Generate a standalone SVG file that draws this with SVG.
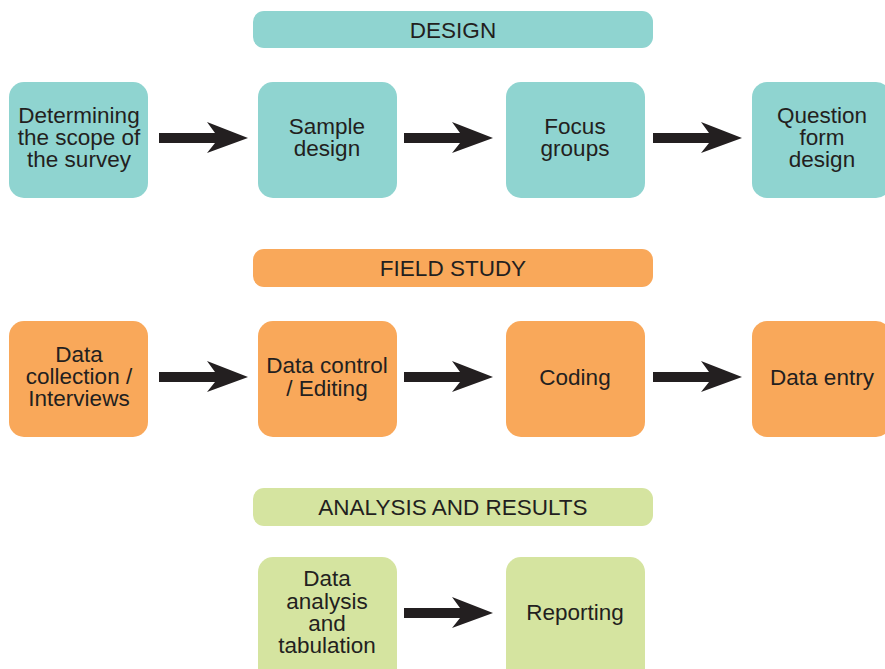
<svg xmlns="http://www.w3.org/2000/svg" width="885" height="669" viewBox="0 0 885 669">
<style>
text{font-family:"Liberation Sans",Arial,sans-serif;font-size:22.5px;fill:#231f20;text-anchor:middle}
.d{fill:#8fd4d0}.f{fill:#f9a85a}.a{fill:#d5e4a0}
.arr{fill:#231f20}
</style>
<defs>
<path id="arrow" d="M0,-5 H56 L48,-16 L89,0 L48,15 L56,5 H0 Z"/>
</defs>
<rect width="885" height="669" fill="#ffffff"/>
<g id="h-design"><rect class="d" x="253" y="11" width="400" height="37" rx="11"/><text x="453" y="38">DESIGN</text></g>
<g id="h-field"><rect class="f" x="253" y="249" width="400" height="38" rx="11"/><text x="453" y="276">FIELD STUDY</text></g>
<g id="h-analysis"><rect class="a" x="253" y="488" width="400" height="38" rx="11"/><text x="453" y="515">ANALYSIS AND RESULTS</text></g>

<g id="n-scope"><rect class="d" x="9" y="82" width="139" height="116" rx="15"/><text x="79"><tspan x="79" y="123">Determining</tspan><tspan x="79" y="145">the scope of</tspan><tspan x="79" y="167">the survey</tspan></text></g>
<g id="n-sample"><rect class="d" x="258" y="82" width="139" height="116" rx="15"/><text><tspan x="327" y="134">Sample</tspan><tspan x="327" y="156">design</tspan></text></g>
<g id="n-focus"><rect class="d" x="506" y="82" width="139" height="116" rx="15"/><text><tspan x="575" y="134">Focus</tspan><tspan x="575" y="156">groups</tspan></text></g>
<g id="n-question"><rect class="d" x="752" y="82" width="139" height="116" rx="15"/><text><tspan x="822" y="123">Question</tspan><tspan x="822" y="145">form</tspan><tspan x="822" y="167">design</tspan></text></g>

<g id="n-collection"><rect class="f" x="9" y="321" width="139" height="116" rx="15"/><text><tspan x="79" y="362">Data</tspan><tspan x="79" y="384">collection /</tspan><tspan x="79" y="406">Interviews</tspan></text></g>
<g id="n-control"><rect class="f" x="258" y="321" width="139" height="116" rx="15"/><text><tspan x="327" y="373">Data control</tspan><tspan x="327" y="396">/ Editing</tspan></text></g>
<g id="n-coding"><rect class="f" x="506" y="321" width="139" height="116" rx="15"/><text x="575" y="385">Coding</text></g>
<g id="n-entry"><rect class="f" x="752" y="321" width="139" height="116" rx="15"/><text x="822" y="385">Data entry</text></g>

<g id="n-analysis"><rect class="a" x="258" y="557" width="139" height="130" rx="15"/><text><tspan x="327" y="586">Data</tspan><tspan x="327" y="609">analysis</tspan><tspan x="327" y="631">and</tspan><tspan x="327" y="653">tabulation</tspan></text></g>
<g id="n-reporting"><rect class="a" x="506" y="557" width="139" height="130" rx="15"/><text x="575" y="620">Reporting</text></g>

<g id="connectors" class="arr">
<use href="#arrow" x="159" y="138"/>
<use href="#arrow" x="404" y="138"/>
<use href="#arrow" x="653" y="138"/>
<use href="#arrow" x="159" y="377"/>
<use href="#arrow" x="404" y="377"/>
<use href="#arrow" x="653" y="377"/>
<use href="#arrow" x="404" y="613"/>
</g>
</svg>
